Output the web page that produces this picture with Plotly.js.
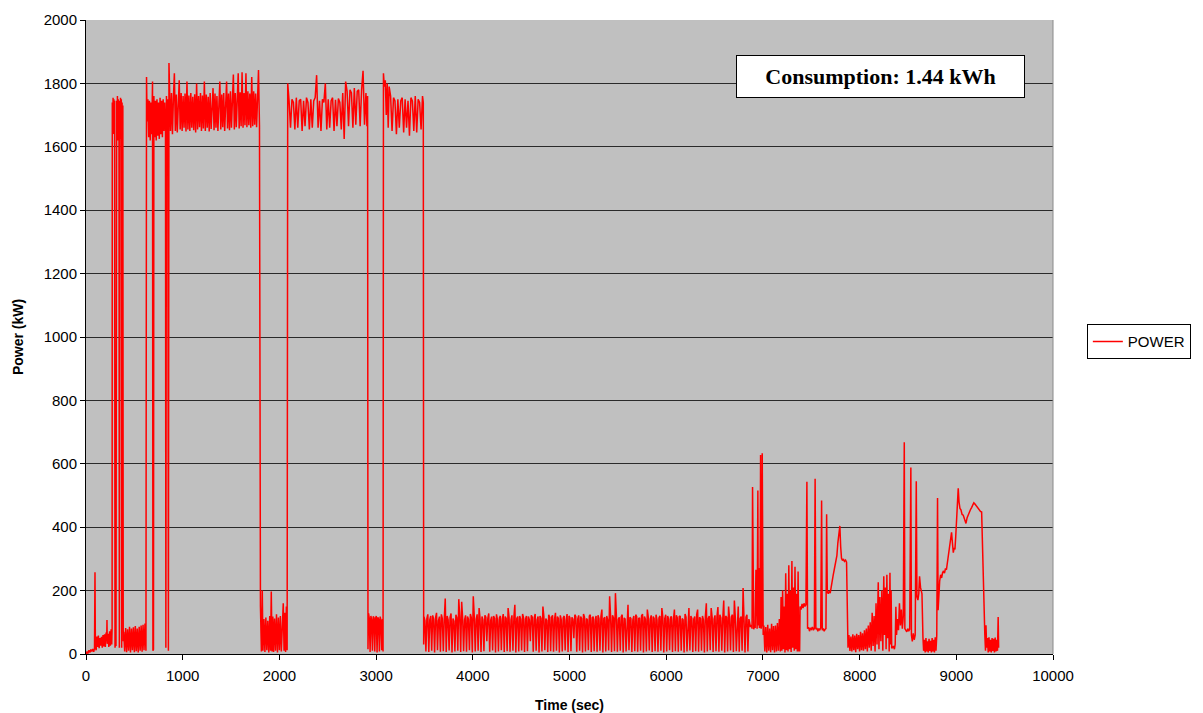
<!DOCTYPE html>
<html>
<head>
<meta charset="utf-8">
<script src="https://cdn.plot.ly/plotly-3.0.1.min.js"></script>
<style>html,body{margin:0;padding:0;background:#fff;}#chart{width:1203px;height:713px;}</style>
</head>
<body>
<div id="chart"></div>
<script>
// ---- Data (time in sec, power in kW) ----
var tA = [0,10,20,30,40,50,60,70,80,88,93,97,105,112,120,128,136,144,152,160,168,176,184,192,200,208,214,217,220,228,236,244,252,260,266,270];
var pA = [0,6,3,12,5,14,8,16,7,18,258,22,12,55,22,58,18,50,26,54,20,60,24,62,22,68,40,107,32,64,22,72,26,78,30,82];

var tB = [272,276,280,284,288,292,296,300,305,310,317,321,325,329,333,337,341,345,349,353,357,361,365,369,373,377,381,385];
var pB = [1740,1650,1755,1640,1750,1660,1745,20,30,25,1745,1630,1760,1620,1750,1640,1745,20,1740,1625,1755,1635,1750,20,1740,1650,1730,40];

var tC = [390,400,410,420,430,440,450,460,470,480,490,500,510,520,530,540,550,560,570,580,590,600,610,620];
var pC = [70,8,82,6,78,10,86,5,80,12,84,6,88,9,80,5,86,10,90,7,92,12,96,10];

var tD = [626,632,640,648,656,664,672,680,688,692,698,702,710,718,726,734,742,750,758,766,774,782,790,798,806,814,822,826,832,838,846,852,858];
var pD = [1820,1680,1750,1630,1745,1620,1740,1640,1806,10,15,1760,1630,1745,1620,1750,1635,1740,1625,1755,1640,1745,1630,1750,1650,1740,1660,20,1760,1670,1750,10,1864];

var tE = [864,874,884,894,904,914,924,934,944,954,964,974,984,994,1004,1014,1024,1034,1044,1054,1064,1074,1084,1094,1104,1114,1124,1134,1144,1154,1164,1174,1184,1194,1204,1214,1224,1234,1244,1254,1264,1274,1284,1294,1304,1314,1324,1334,1344,1354,1364,1374,1384,1394,1404,1414,1424,1434,1444,1454,1464,1474,1484,1494,1504,1514,1524,1534,1544,1554,1564,1574,1584,1594,1604,1614,1624,1634,1644,1654,1664,1674,1684,1694,1704,1714,1724,1734,1744,1754,1764,1774,1784,1794];
var pE = [1760,1650,1770,1640,1755,1832,1650,1765,1645,1760,
          1810,1655,1770,1650,1760,1660,1768,1648,1806,1655,
          1762,1650,1770,1660,1758,1652,1766,1645,1800,1655,
          1760,1662,1770,1650,1762,1658,1806,1650,1765,1660,
          1758,1648,1770,1656,1762,1785,1652,1768,1660,1760,
          1650,1772,1806,1655,1765,1662,1770,1650,1760,1806,
          1658,1768,1652,1775,1660,1762,1828,1655,1770,1662,
          1765,1832,1658,1772,1665,1835,1660,1770,1668,1832,
          1662,1775,1668,1768,1660,1820,1665,1775,1670,1768,
          1662,1770,1842,1665];

var tF = [1804,1814,1823,1830,1840,1850,1860,1870,1880,1890,1900,1908,1916,1924,1932,1940,1950,1960,1970,1980,1990,2000,2010,2020,2030,2040,2048,2056,2064,2072,2080];
var pF = [150,8,200,10,110,6,115,12,105,5,120,10,197,8,118,6,112,10,125,5,115,12,120,8,118,160,10,130,6,150,12];

var tG = [2086,2100,2115,2130,2145,2160,2175,2190,2205,2220,2235,2250,2265,2280,2295,2310,2325,2340,2355,2370,2385,2400,2415,2430,2445,2460,2475,2490,2505,2520,2535,2550,2565,2580,2595,2610,2625,2640,2655,2670,2685,2700,2715,2730,2745,2760,2775,2790,2805,2820,2835,2850,2865,2880,2895,2905,2912];
var pG = [1800,1745,1660,1750,1740,1655,1755,1660,1745,1750,1650,1745,1665,1755,1740,1655,1750,1660,1745,1755,1826,1660,1745,1650,1750,1740,1800,1655,1750,1660,1745,1755,1650,1748,1665,1752,1740,1655,1770,1625,1806,1775,1665,1780,1770,1660,1785,1670,1775,1780,1665,1778,1840,1670,1770,1665,1760];

var tH = [2916,2922,2930,2938,2946,2954,2962,2970,2978,2986,2994,3002,3010,3018,3026,3034,3042,3050,3058,3066,3072];
var pH = [15,128,112,6,120,108,10,118,115,8,112,120,5,116,110,8,118,106,12,110,8];

var tI = [3076,3085,3095,3105,3115,3125,3135,3150,3165,3180,3195,3210,3225,3240,3255,3270,3285,3300,3315,3330,3345,3360,3375,3390,3405,3420,3435,3450,3465,3480,3488,3492];
var pI = [1832,1790,1810,1700,1800,1660,1790,1760,1650,1755,1745,1640,1750,1660,1745,1755,1645,1750,1660,1745,1635,1755,1745,1650,1760,1645,1750,1740,1655,1760,1740,30];

var tJ1 = [3495,3505,3515,3525,3535,3545,3555,3565,3575,3585,3595,3605,3615,3625,3635,3645,3655,3665,3675,3685,3695,3705,3715,3725,3735,3745,3755,3765,3775,3785,3795,3805,3815,3825,3835,3845,3855,3865,3875,3885,3895,3905,3915,3925,3935,3945,3955,3965,3975,3985,3995,4005,4015,4025,4035,4045,4055,4065,4075,4085,4095,4105,4115,4125,4135,4145,4155,4165,4175,4185,4195,4205,4215,4225,4235,4245,4255,4265,4275,4285,4295,4305,4315,4325,4335,4345,4355,4365,4375,4385,4395,4405,4415,4425,4435,4445,4455,4465,4475];
var pJ1 = [118,105,8,112,125,6,108,120,10,122,110,5,115,130,12,105,118,7,125,112,9,110,175,6,120,108,11,116,128,5,112,104,8,124,115,10,173,118,6,165,112,9,108,122,7,118,110,12,126,114,5,182,120,8,110,125,10,145,112,6,118,108,9,122,116,40,112,128,7,106,118,11,120,112,5,125,108,8,114,120,12,110,126,6,118,112,9,145,116,7,108,122,10,116,155,5,112,118,8];

var tJ2 = [4485,4495,4505,4515,4525,4535,4545,4555,4565,4575,4585,4595,4605,4615,4625,4635,4645,4655,4665,4675,4685,4695,4705,4715,4725,4735,4745,4755,4765,4775,4785,4795,4805,4815,4825,4835,4845,4855,4865,4875,4885,4895,4905,4915,4925,4935,4945,4955,4965,4975,4985,4995,5005,5015,5025,5035,5045,5055,5065,5075,5085,5095,5105,5115,5125,5135,5145,5155,5165,5175,5185,5195,5205,5215,5225,5235,5245,5255,5265,5275,5285,5295,5305,5315,5325,5335,5345,5355,5365,5375,5385,5395,5405,5415,5425,5435,5445,5455,5465];
var pJ2 = [120,110,11,126,114,6,110,120,9,118,108,40,122,116,7,114,126,10,108,118,5,120,112,8,150,118,12,112,106,6,124,116,9,116,122,7,110,130,10,118,112,5,122,108,8,114,120,11,108,126,6,120,114,9,116,110,50,124,118,7,110,122,10,118,112,5,126,116,8,112,108,12,120,124,6,114,118,9,108,120,7,122,112,10,118,140,5,112,116,8,120,108,11,182,118,6,122,114,9];

var tJ3 = [5475,5485,5495,5505,5515,5525,5535,5545,5555,5565,5575,5585,5595,5605,5615,5625,5635,5645,5655,5665,5675,5685,5695,5705,5715,5725,5735,5745,5755,5765,5775,5785,5795,5805,5815,5825,5835,5845,5855,5865,5875,5885,5895,5905,5915,5925,5935,5945,5955,5965,5975,5985,5995,6005,6015,6025,6035,6045,6055,6065,6075,6085,6095,6105,6115,6125,6135,6145,6155,6165,6175,6185,6195,6205,6215,6225,6235,6245,6255,6265,6275,6285,6295,6305,6315,6325,6335,6345,6355,6365,6375,6385,6395,6405,6415,6425,6435,6445,6455];
var pJ3 = [192,120,7,110,116,10,118,124,5,114,110,8,120,155,12,116,112,6,108,120,9,124,118,7,112,114,10,120,126,5,118,110,8,140,116,11,110,122,6,118,112,9,124,108,7,114,120,10,145,116,5,112,124,8,120,110,12,116,118,6,108,140,9,122,114,7,118,120,10,112,108,5,126,116,8,114,145,11,120,112,6,110,118,9,124,140,7,116,112,10,120,108,5,118,160,8,112,120,12];

var tJ4 = [6465,6475,6485,6495,6505,6515,6525,6535,6545,6555,6565,6575,6585,6595,6605,6615,6625,6635,6645,6655,6665,6675,6685,6695,6705,6715,6725,6735,6745,6755,6765,6775,6785,6795,6805,6815,6825,6835,6845,6855];
var pJ4 = [145,116,6,110,122,9,118,148,7,124,114,10,112,169,5,120,116,8,150,112,11,118,124,6,169,114,9,120,150,7,112,118,10,208,120,5,116,124,8,110];

var tK1 = [6862,6870,6880,6888,6893,6898,6905,6912,6920,6928,6934,6940,6948,6952,6958,6964,6970,6976,6982,6988,6993,6998,7003];
var pK1 = [100,85,92,80,527,88,78,90,82,266,85,80,516,90,271,82,88,628,80,92,633,100,60];

var tK2 = [7010,7020,7030,7040,7050,7060,7070,7080,7090,7100,7110,7120,7130,7140,7150,7160,7170,7180];
var pK2 = [90,8,85,5,92,10,80,6,95,12,88,5,90,8,98,10,110,8];

var tK3 = [7188,7196,7204,7212,7220,7228,7236,7244,7252,7260,7268,7276,7284,7292,7300,7308,7316,7324,7332,7340,7348,7356,7364,7372];
var pK3 = [180,10,200,15,150,5,255,12,190,8,280,15,200,6,293,20,210,10,275,15,190,8,260,10];

var tK4 = [7380,7385,7395,7405,7415,7425,7435,7445,7455,7462,7472,7482,7492,7502,7512,7522,7532,7540,7548,7558,7568,7578,7588,7598,7607,7614,7624,7634,7644,7652,7659,7666,7676,7686,7696,7706,7716,7727,7737,7747,7757,7765,7775,7785,7796,7804,7813,7823,7833,7843,7855,7865,7872];
var pK4 = [10,150,140,158,145,160,150,155,543,80,85,72,82,78,85,75,80,553,78,82,72,80,76,82,484,75,80,72,78,80,441,196,190,200,192,215,235,249,265,280,291,310,350,380,404,340,302,295,300,292,296,290,74];

var tK5 = [7880,7890,7900,7910,7920,7930,7940,7950,7960,7970,7980,7990,8000,8010,8020,8030,8040,8050,8060,8070,8080,8090,8100,8110,8120,8130,8140,8150,8160,8170,8180,8193,8200,8210,8220,8230,8240,8250,8258,8266,8274,8282,8290,8298,8306,8314,8320,8326,8332];
var pK5 = [20,60,10,55,8,62,12,58,6,64,15,60,8,70,12,65,10,75,15,80,8,90,20,100,10,130,25,120,8,160,30,226,15,180,40,200,10,245,60,210,15,250,50,190,8,256,30,200,20];

var tK6 = [8340,8350,8360,8368,8375,8382,8392,8402,8412,8422,8432,8442,8452,8462,8468,8478,8488,8498,8508,8518,8530,8536,8545,8555,8565,8575,8586,8593,8603,8612,8620,8630,8637,8645,8655,8662,8670,8678,8686,8694,8702,8710,8718,8726,8734,8742,8750,8758,8766,8774,8782,8790,8798,8806,8812,8820];
var pK6 = [20,25,15,30,149,60,110,75,160,90,140,80,120,668,80,75,70,80,72,78,588,60,40,65,45,60,545,181,170,190,245,210,203,190,53,10,45,5,50,8,40,5,48,10,42,5,50,8,45,5,53,10,60,492,138,203];

var tK7 = [8828,8838,8848,8858,8868,8878,8888,8898,8908,8918,8928,8938,8946,8951,8960,8969,8978,8986,8994,9003,9012,9020,9028,9038,9048,9060,9072,9085,9100,9112,9124,9135,9146,9158,9170,9181,9193,9205,9217,9227,9238,9250,9262,9272,9280,9288];
var pK7 = [230,250,240,256,262,255,270,266,290,310,340,352,370,384,350,320,335,330,370,415,470,523,480,459,455,440,438,425,412,430,441,450,455,462,470,477,473,468,462,459,455,450,448,325,200,85];

var tK8 = [9295,9302,9307,9314,9322,9330,9338,9346,9354,9362,9370,9378,9386,9394,9402,9410,9418,9426,9433,9438];
var pK8 = [60,10,91,20,50,5,53,8,45,5,50,10,48,5,52,8,45,10,117,20];

var seriesName = 'POWER';
var annotationText = 'Consumption: 1.44 kWh';
var xTitle = 'Time (sec)';
var yTitle = 'Power (kW)';

// ---- assemble the single series ----
var timeSec = [].concat(tA,tB,tC,tD,tE,tF,tG,tH,tI,tJ1,tJ2,tJ3,tJ4,tK1,tK2,tK3,tK4,tK5,tK6,tK7,tK8);
var powerKW = [].concat(pA,pB,pC,pD,pE,pF,pG,pH,pI,pJ1,pJ2,pJ3,pJ4,pK1,pK2,pK3,pK4,pK5,pK6,pK7,pK8);

var trace = {
  x: timeSec,
  y: powerKW,
  type: 'scatter',
  mode: 'lines',
  name: seriesName,
  line: {color: '#FF0000', width: 1.5},
  hoverinfo: 'skip'
};

var layout = {
  width: 1203,
  height: 713,
  margin: {l: 86, r: 148, t: 20, b: 59},
  paper_bgcolor: '#FFFFFF',
  plot_bgcolor: '#C0C0C0',
  font: {family: 'Liberation Sans, Arial, sans-serif', color: '#000000', size: 15},
  showlegend: true,
  legend: {
    x: 1.035, xanchor: 'left', y: 0.52, yanchor: 'top',
    bgcolor: '#FFFFFF', bordercolor: '#000000', borderwidth: 1,
    font: {size: 15, color: '#000000'}
  },
  xaxis: {
    range: [0, 10000], tick0: 0, dtick: 1000, tickformat: 'd',
    showgrid: false, zeroline: false,
    showline: true, linecolor: '#000000', linewidth: 1,
    ticks: 'outside', ticklen: 5, tickcolor: '#000000',
    ticklabelstandoff: 3,
    tickfont: {size: 15, color: '#000000'},
    title: {text: '<b>' + xTitle + '</b>', font: {size: 14, color: '#000000'}, standoff: 20}
  },
  yaxis: {
    range: [0, 2000], tick0: 0, dtick: 200, tickformat: 'd',
    showgrid: true, gridcolor: '#2a2a2a', gridwidth: 1, zeroline: false,
    showline: true, linecolor: '#000000', linewidth: 1,
    ticks: 'outside', ticklen: 5, tickcolor: '#000000',
    tickfont: {size: 15, color: '#000000'},
    title: {text: '<b>' + yTitle + '</b>', font: {size: 14, color: '#000000'}, standoff: 16}
  },
  shapes: [
    {type: 'line', xref: 'paper', yref: 'paper', x0: 1, x1: 1, y0: 0, y1: 1,
     line: {color: '#8a8a8a', width: 1}}
  ],
  annotations: [
    {
      text: '<b>' + annotationText + '</b>',
      xref: 'paper', yref: 'paper', x: 0.822, y: 0.911,
      xanchor: 'center', yanchor: 'middle',
      showarrow: false,
      font: {family: 'Liberation Serif, Times New Roman, serif', size: 22, color: '#000000'},
      bgcolor: '#FFFFFF', bordercolor: '#000000', borderwidth: 1, borderpad: 1,
      width: 285, height: 39
    }
  ]
};

Plotly.newPlot('chart', [trace], layout, {displayModeBar: false, staticPlot: true});
</script>
</body>
</html>
